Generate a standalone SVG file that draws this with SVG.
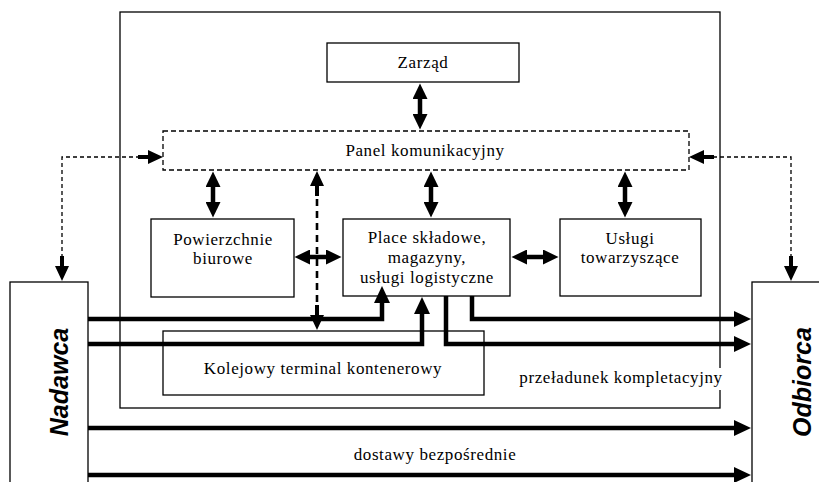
<svg xmlns="http://www.w3.org/2000/svg" width="819" height="482" viewBox="0 0 819 482">
<style>
.box{fill:#fff;stroke:#000;stroke-width:1.3}
.dbox{fill:#fff;stroke:#000;stroke-width:1.3;stroke-dasharray:5 3}
.t{font-family:"Liberation Serif","Times New Roman",serif;font-size:17px;letter-spacing:0.6px;fill:#000;text-anchor:middle}
.big{font-family:"Liberation Sans",Arial,sans-serif;font-size:25px;font-weight:bold;font-style:italic;fill:#000;text-anchor:middle}
.thick{fill:none;stroke:#000;stroke-width:4.5}
.dash{fill:none;stroke:#000;stroke-width:1.3;stroke-dasharray:4 3}
.dashthick{fill:none;stroke:#000;stroke-width:2.6;stroke-dasharray:7 5}
.mk{fill:none;stroke:none}
</style>
<defs>
<marker id="ah" markerUnits="userSpaceOnUse" markerWidth="18" markerHeight="16" refX="9" refY="8" orient="auto-start-reverse">
<path d="M0,0 L17,8 L0,16 z" fill="#000"/>
</marker>
<marker id="ahs" markerUnits="userSpaceOnUse" markerWidth="16" markerHeight="15" refX="8" refY="7.5" orient="auto-start-reverse">
<path d="M0,0 L15.5,7.5 L0,15 z" fill="#000"/>
</marker>
<marker id="ahd" markerUnits="userSpaceOnUse" markerWidth="26" markerHeight="14" refX="25" refY="7" orient="auto">
<path d="M0,5 H10 V0 L25,7 L10,14 V9 H0 z" fill="#000"/>
</marker>
</defs>

<g id="outer"><rect x="120" y="12" width="600" height="396" fill="none" stroke="#000" stroke-width="1.3"/></g>

<g id="zarzad"><rect class="box" x="327" y="43" width="192" height="39"/><text class="t" x="423" y="68">Zarząd</text></g>
<g id="panel"><rect class="dbox" x="163" y="131" width="526" height="39"/><text class="t" x="425" y="156">Panel komunikacyjny</text></g>
<g id="powierzchnie"><rect class="box" x="151" y="219" width="143" height="78"/><text class="t" x="223" y="245">Powierzchnie</text><text class="t" x="223" y="264">biurowe</text></g>
<g id="place"><rect class="box" x="343" y="219" width="167" height="77"/><text class="t" x="427" y="243">Place składowe,</text><text class="t" x="427" y="263">magazyny,</text><text class="t" x="427" y="283">usługi logistyczne</text></g>
<g id="uslugi"><rect class="box" x="560" y="219" width="141" height="77"/><text class="t" x="630" y="244">Usługi</text><text class="t" x="630" y="263">towarzyszące</text></g>
<g id="kolejowy"><rect class="box" x="163" y="331" width="321" height="64"/><text class="t" x="323" y="374">Kolejowy terminal kontenerowy</text></g>
<g id="nadawca"><rect class="box" x="10" y="282" width="78" height="210"/><text class="big" transform="translate(68,382) rotate(-90)">Nadawca</text></g>
<g id="odbiorca"><rect class="box" x="752" y="282" width="80" height="210"/><text class="big" transform="translate(811,382) rotate(-90)">Odbiorca</text></g>

<g id="connectors">
<path class="thick" d="M420,91 V122" marker-start="url(#ahs)" marker-end="url(#ahs)"/>
<path class="thick" d="M213,179 V210" marker-start="url(#ahs)" marker-end="url(#ahs)"/>
<path class="thick" d="M431,179 V210" marker-start="url(#ahs)" marker-end="url(#ahs)"/>
<path class="thick" d="M625,179 V210" marker-start="url(#ahs)" marker-end="url(#ahs)"/>
<path class="thick" d="M302,257 H334" marker-start="url(#ahs)" marker-end="url(#ahs)"/>
<path class="thick" d="M519,257 H551" marker-start="url(#ahs)" marker-end="url(#ahs)"/>
<path class="dashthick" d="M317,199 V306"/>
<path class="mk" d="M317,200 V171" marker-end="url(#ahd)"/>
<path class="mk" d="M317,300 V330" marker-end="url(#ahd)"/>
<path class="dash" d="M62,258 V157 H141"/>
<path class="dash" d="M791,258 V157 H711"/>
<path class="mk" d="M62,258 V281" marker-end="url(#ahd)"/>
<path class="mk" d="M791,258 V281" marker-end="url(#ahd)"/>
<path class="mk" d="M140,157 H163" marker-end="url(#ahd)"/>
<path class="mk" d="M712,157 H689" marker-end="url(#ahd)"/>
<path class="thick" d="M88,319 H382 V294" marker-end="url(#ah)"/>
<path class="thick" d="M88,344 H422 V305" marker-end="url(#ah)"/>
<path class="thick" d="M446,296 V344 H743" marker-end="url(#ah)"/>
<path class="thick" d="M472,296 V319 H743" marker-end="url(#ah)"/>
<path class="thick" d="M88,428 H743" marker-end="url(#ah)"/>
<path class="thick" d="M88,475 H743" marker-end="url(#ah)"/>
</g>

<g id="labels">
<rect x="519" y="368" width="205" height="22" fill="#fff"/>
<text class="t" x="621" y="383">przeładunek kompletacyjny</text>
<text class="t" x="435" y="460">dostawy bezpośrednie</text>
</g>
</svg>
